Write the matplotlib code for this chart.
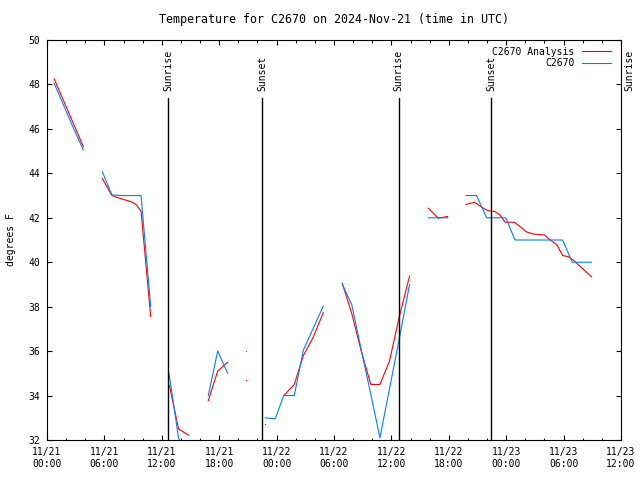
import numpy as np
import pandas as pd
import matplotlib
matplotlib.use('Agg')
import matplotlib.pyplot as plt
import matplotlib.dates as mdates

nan = np.nan
start = pd.Timestamp('2024-11-21 00:00')

# observed C2670 (hours after 11/21 00:00 UTC, degrees F)
obs_hours = [0.75, 1.75, 2.75, 3.8, 4.8, 5.78, 6.78, 7.8, 8.8, 9.83, 10.84, 11.8,
             12.75, 13.75, 14.75, 15.8, 16.86, 17.84, 18.89, 19.85, 20.8, 21.8,
             22.8, 23.85, 24.75, 25.85, 26.8, 27.8, 28.88, 29.85,
             30.87, 31.85, 32.85, 33.85, 34.8, 35.8, 36.8, 37.9, 38.85,
             39.86, 40.86, 41.88, 42.85,
             43.8, 44.9, 45.96, 46.9, 47.95, 48.92, 49.9, 50.9, 51.9, 52.9,
             53.9, 54.9, 55.9, 56.9]
obs_temp = [48.05, 47.05, 46.05, 45.05, nan, 44.07, 43.03, 43.0, 43.0, 43.0, 38.0, nan,
            35.0, 32.1, 31.0, nan, 34.0, 36.0, 35.0, nan, 36.0, nan,
            33.0, 32.95, 34.0, 34.0, 36.05, 37.0, 38.03, nan,
            39.0, 38.1, 36.05, 34.05, 32.1, 34.3, 36.5, 39.0, nan,
            42.0, 42.0, 42.0, nan,
            43.0, 43.0, 42.0, 42.0, 42.0, 41.0, 41.0, 41.0, 41.0, 41.0,
            41.0, 40.0, 40.0, 40.0]

# analysis C2670
ana_hours = [0.75, 1.75, 2.75, 3.8, 4.8, 5.78, 6.78, 7.8, 8.8, 9.3, 9.83, 10.84, 11.8,
             12.8, 13.75, 14.77, 15.8, 16.86, 17.84, 18.89, 19.85, 20.8, 21.8,
             22.8, 23.8, 24.75, 25.85, 26.8, 27.8, 28.88, 29.85,
             30.87, 31.85, 32.85, 33.85, 34.8, 35.8, 36.8, 37.9, 38.85,
             39.86, 40.9, 41.88, 42.85,
             43.8, 44.7, 45.6, 46.1, 46.8, 47.35, 47.87, 48.85, 49.45, 50.1,
             50.8, 52.05, 52.4, 53.3, 53.9, 54.5, 55.0, 56.9]
ana_temp = [48.25, 47.25, 46.25, 45.2, nan, 43.77, 43.0, 42.85, 42.72, 42.6, 42.3, 37.55, nan,
            34.45, 32.5, 32.22, nan, 33.77, 35.1, 35.5, nan, 34.7, nan,
            32.7, nan, 34.0, 34.5, 35.8, 36.6, 37.73, nan,
            39.05, 37.7, 36.0, 34.5, 34.5, 35.55, 37.5, 39.38, nan,
            42.43, 41.98, 42.06, nan,
            42.6, 42.7, 42.43, 42.32, 42.28, 42.13, 41.8, 41.8, 41.6, 41.37,
            41.27, 41.22, 41.07, 40.78, 40.3, 40.25, 40.1, 39.35]

sun_hours = [12.65, 22.47, 36.78, 46.4, 60.85]
sun_labels = ['Sunrise', 'Sunset', 'Sunrise', 'Sunset', 'Sunrise']

plt.rcParams['font.family'] = 'DejaVu Sans Mono'
plt.rcParams['font.size'] = 7


def lone_points(t, y):
    # points with no neighbour on either side show up only as a dot
    y = np.asarray(y, dtype=float)
    prev = np.r_[nan, y[:-1]]
    nxt = np.r_[y[1:], nan]
    m = ~np.isnan(y) & np.isnan(prev) & np.isnan(nxt)
    return t[m], y[m]


obs_t = start + pd.to_timedelta(obs_hours, unit='h')
ana_t = start + pd.to_timedelta(ana_hours, unit='h')

fig = plt.figure(figsize=(6.4, 4.8), dpi=100)
ax = fig.add_axes([47/640, 40/480, 574/640, 400/480])

ax.plot(ana_t, ana_temp, color='#ff0000', lw=0.8, label='C2670 Analysis')
ax.plot(obs_t, obs_temp, color='#0080ff', lw=0.8, label='C2670')
for t, y, c in [(ana_t, ana_temp, '#ff0000'), (obs_t, obs_temp, '#0080ff')]:
    lt, ly = lone_points(t, y)
    ax.plot(lt, ly, ls='none', marker='s', ms=0.8, mec='none', color=c)

for h, lab in zip(sun_hours, sun_labels):
    t = start + pd.Timedelta(hours=h)
    ax.plot([t, t], [32, 47.4], color='black', lw=1.0)
    ax.text(t, 47.7, lab, rotation=90, ha='center', va='bottom', clip_on=False)

ax.set_xlim(start, start + pd.Timedelta(hours=60))
ax.set_ylim(32, 50)
ax.set_yticks(np.arange(32, 51, 2))
ax.xaxis.set_major_locator(mdates.HourLocator(byhour=[0, 6, 12, 18]))
ax.xaxis.set_minor_locator(mdates.HourLocator(byhour=range(0, 24, 2)))
ax.xaxis.set_major_formatter(mdates.DateFormatter('%m/%d\n%H:%M'))
ax.tick_params(which='both', direction='in', top=True, right=True, width=0.8)
ax.tick_params(which='major', length=3.5, pad=5)
ax.tick_params(which='minor', length=1.8)
for s in ax.spines.values():
    s.set_linewidth(0.8)

ax.set_ylabel('degrees F', labelpad=9)
ax.set_title('Temperature for C2670 on 2024-Nov-21 (time in UTC)', pad=12)
ax.legend(loc='upper right', frameon=False, markerfirst=False, handlelength=3.0,
          borderaxespad=0.3, labelspacing=0.15, handletextpad=0.8,
          bbox_to_anchor=(0.995, 1.0))

fig.savefig('out.png', dpi=100)
